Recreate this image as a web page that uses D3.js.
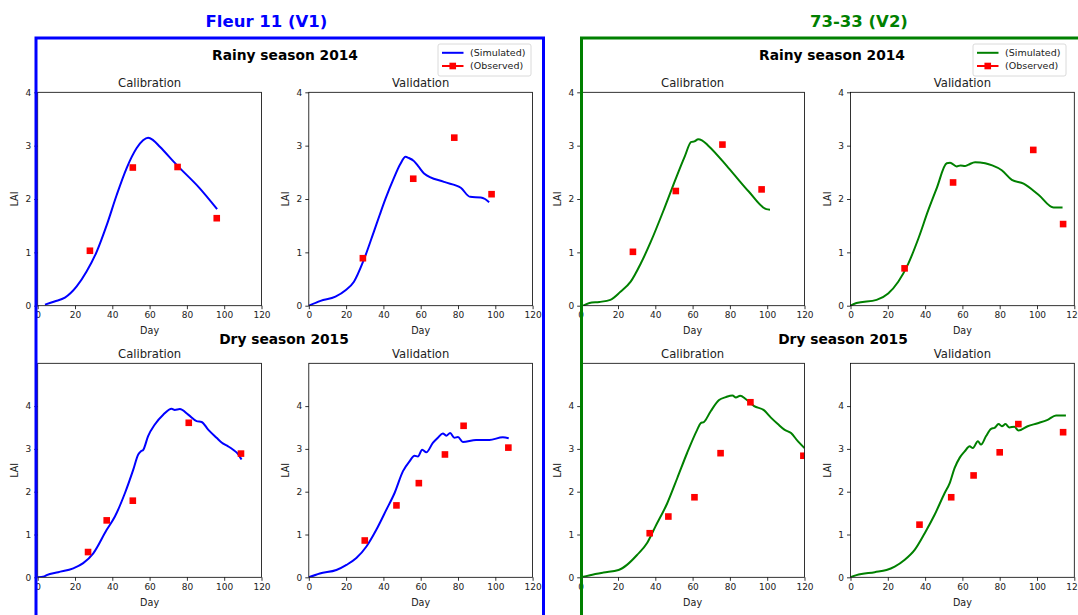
<!DOCTYPE html>
<html>
<head>
<meta charset="utf-8">
<script src="https://cdnjs.cloudflare.com/ajax/libs/d3/7.8.5/d3.min.js"></script>
<style>
  body { margin: 0; background: #fff; }
  svg { font-family: "DejaVu Sans", sans-serif; display: block; }
</style>
</head>
<body>
<div id="chart"></div>
<script>
// ticks shared by every panel
const dayTicks = [0, 20, 40, 60, 80, 100, 120];
const laiTicks = [0, 1, 2, 3, 4];

// Fleur 11 (V1) - rainy season 2014, [day, LAI]
const v1RainyCalSim = [[3.9,0.02],[9,0.08],[14.6,0.15],[20.9,0.36],[26.2,0.64],[31.6,1.01],[37,1.51],[42.3,2.07],[47.7,2.58],[53,2.95],[56.5,3.1],[59.2,3.15],[62,3.1],[65.5,2.98],[74.5,2.64],[86.9,2.2],[96.2,1.81]];
const v1RainyCalObs = [[28,1.03],[51,2.59],[75,2.6],[96,1.64]];
const v1RainyValSim = [[0,0],[6.3,0.09],[14.3,0.17],[19.7,0.29],[24.2,0.45],[29.5,0.86],[34.9,1.39],[38,1.7],[41.2,2.01],[45.6,2.39],[49,2.65],[51.9,2.79],[53.5,2.77],[56.4,2.71],[59,2.6],[61.8,2.48],[72.5,2.32],[81.5,2.21],[86.5,2.04],[92.2,2.03],[94.5,2.0],[96.7,1.94]];
const v1RainyValObs = [[29,0.89],[56,2.38],[78,3.15],[98,2.09]];

// Fleur 11 (V1) - dry season 2015
const v1DryCalSim = [[0,0],[3.5,0.02],[4.8,0.05],[11,0.12],[19.1,0.21],[24.4,0.33],[29.8,0.56],[37,1.11],[41.4,1.42],[46.8,1.97],[51.2,2.51],[53.9,2.87],[55.5,2.95],[56.6,2.98],[59.2,3.3],[62.8,3.57],[67.3,3.8],[71.8,3.94],[73.5,3.91],[76.2,3.93],[80.7,3.8],[85.2,3.65],[87.9,3.63],[91.4,3.45],[95.9,3.26],[98.6,3.15],[102.1,3.06],[104.8,2.98],[107,2.9],[109.3,2.75]];
const v1DryCalObs = [[27,0.59],[37,1.33],[51,1.79],[81,3.61],[109,2.89]];
const v1DryValSim = [[0,0],[5.9,0.09],[14.8,0.17],[20.2,0.29],[25.5,0.45],[30.9,0.72],[36.2,1.11],[41.6,1.58],[46,1.97],[50.5,2.48],[54,2.71],[56.7,2.84],[58.5,2.82],[60.8,2.98],[63,2.92],[66.5,3.14],[69.2,3.26],[71.9,3.36],[73.7,3.31],[75.8,3.37],[78.1,3.26],[80,3.28],[82.6,3.16],[89.7,3.21],[96.8,3.21],[104,3.27],[107.2,3.25]];
const v1DryValObs = [[30,0.86],[47,1.68],[59,2.2],[73,2.87],[83,3.54],[107,3.03]];

// 73-33 (V2) - rainy season 2014
const v2RainyCalSim = [[1.4,0],[4.7,0.05],[10,0.07],[15.9,0.11],[21.3,0.26],[26.8,0.45],[32.2,0.79],[37.6,1.2],[44.8,1.82],[50.3,2.32],[55.7,2.79],[59.3,3.07],[61,3.08],[63,3.12],[65,3.1],[68.4,3.0],[79.3,2.58],[90.1,2.14],[99.5,1.81],[101.5,1.8]];
const v2RainyCalObs = [[28,1.01],[51,2.15],[76,3.02],[97,2.18]];
const v2RainyValSim = [[0,0],[3.2,0.05],[14,0.11],[20.2,0.23],[25.6,0.45],[31,0.79],[36.4,1.26],[41.7,1.79],[46.2,2.2],[51.6,2.67],[53.4,2.68],[56.9,2.61],[59,2.63],[61.4,2.62],[63,2.64],[66.8,2.69],[72.2,2.67],[76,2.63],[81.1,2.54],[86.5,2.36],[92.8,2.29],[100.8,2.08],[108.9,1.84],[113.7,1.84]];
const v2RainyValObs = [[29,0.7],[55,2.31],[98,2.92],[114,1.53]];

// 73-33 (V2) - dry season 2015
const v2DryCalSim = [[0,0],[5,0.05],[12.2,0.11],[20.3,0.17],[24.8,0.29],[30.2,0.52],[35.6,0.8],[40.1,1.19],[46.4,1.73],[51.8,2.32],[57.1,2.91],[62.5,3.45],[64.3,3.6],[66.1,3.63],[69.7,3.88],[74.2,4.14],[77.8,4.21],[81.4,4.25],[83.2,4.2],[85.5,4.24],[88.6,4.16],[93,4.0],[98.4,3.9],[102,3.73],[105.7,3.58],[109.2,3.45],[112.8,3.37],[116.4,3.18],[120,3.02]];
const v2DryCalObs = [[37,1.03],[47,1.42],[61,1.87],[75,2.9],[91,4.09],[119.4,2.84]];
const v2DryValSim = [[0,0],[3.2,0.05],[13,0.12],[19.3,0.17],[23.7,0.25],[29.1,0.41],[34.4,0.64],[39.8,1.03],[45.1,1.46],[50.5,1.97],[53.2,2.2],[55.8,2.55],[58.5,2.79],[61.2,2.94],[63.9,3.06],[65.6,3.02],[68.3,3.18],[70,3.1],[72.7,3.3],[75.4,3.47],[77.2,3.49],[79.4,3.58],[81.2,3.53],[83.1,3.58],[85.2,3.5],[87.9,3.52],[90,3.43],[95,3.53],[100.4,3.6],[105.7,3.68],[110.2,3.78],[115.5,3.78]];
const v2DryValObs = [[37,1.23],[54,1.87],[66,2.38],[80,2.92],[90,3.58],[114,3.39]];

const BLUE = "#0000ff", GREEN = "#008000", RED = "#ff0000";

const width = 1078, height = 615;

// layout of the 4x2 grid of axes
const colLeft = [37.7, 308.8, 580.7, 850.5];
const axW = 223.8;
const rows = [
  {top: 92.3, bottom: 305.7, ymax: 4},
  {top: 363.3, bottom: 577.3, ymax: 5}
];

const panels = [
  {sim: v1RainyCalSim, obs: v1RainyCalObs, col: 0, row: 0, title: "Calibration", color: BLUE},
  {sim: v1RainyValSim, obs: v1RainyValObs, col: 1, row: 0, title: "Validation", color: BLUE},
  {sim: v2RainyCalSim, obs: v2RainyCalObs, col: 2, row: 0, title: "Calibration", color: GREEN},
  {sim: v2RainyValSim, obs: v2RainyValObs, col: 3, row: 0, title: "Validation", color: GREEN},
  {sim: v1DryCalSim, obs: v1DryCalObs, col: 0, row: 1, title: "Calibration", color: BLUE},
  {sim: v1DryValSim, obs: v1DryValObs, col: 1, row: 1, title: "Validation", color: BLUE},
  {sim: v2DryCalSim, obs: v2DryCalObs, col: 2, row: 1, title: "Calibration", color: GREEN},
  {sim: v2DryValSim, obs: v2DryValObs, col: 3, row: 1, title: "Validation", color: GREEN}
];

var svg = d3.select("#chart").append("svg")
    .attr("width", width)
    .attr("height", height);

var defs = svg.append("defs");

panels.forEach(function(p, i) {
  var r = rows[p.row];
  var x = d3.scaleLinear().domain([0, 120]).range([colLeft[p.col], colLeft[p.col] + axW]);
  var y = d3.scaleLinear().domain([0, r.ymax]).range([r.bottom, r.top]);

  defs.append("clipPath").attr("id", "clip" + i)
    .append("rect")
      .attr("x", x(0)).attr("y", r.top)
      .attr("width", axW).attr("height", r.bottom - r.top);

  var g = svg.append("g");

  // x axis
  var xg = g.append("g")
      .attr("transform", "translate(0," + r.bottom + ")")
      .call(d3.axisBottom(x).tickValues(dayTicks).tickFormat(d3.format("d"))
        .tickSize(3.5).tickPadding(2.5).tickSizeOuter(0));
  // y axis
  var yg = g.append("g")
      .attr("transform", "translate(" + x(0) + ",0)")
      .call(d3.axisLeft(y).tickValues(laiTicks).tickFormat(d3.format("d"))
        .tickSize(3.5).tickPadding(3).tickSizeOuter(0));

  [xg, yg].forEach(function(a) {
    a.select(".domain").remove();
    a.attr("font-family", null).attr("font-size", null);
    a.selectAll(".tick line").attr("stroke", "#000").attr("stroke-width", 0.8);
    a.selectAll(".tick text").attr("fill", "#222").style("font-size", "9px");
  });

  // simulated line
  var line = d3.line()
      .x(function(d) { return x(d[0]); })
      .y(function(d) { return y(d[1]); })
      .curve(d3.curveMonotoneX);

  g.append("path")
      .datum(p.sim)
      .attr("clip-path", "url(#clip" + i + ")")
      .attr("fill", "none")
      .attr("stroke", p.color)
      .attr("stroke-width", 2)
      .attr("stroke-linejoin", "round")
      .attr("d", line);

  // observed squares
  var s = 6.6;
  g.append("g")
      .attr("clip-path", "url(#clip" + i + ")")
    .selectAll("rect")
      .data(p.obs)
      .enter()
      .append("rect")
      .attr("x", function(d) { return x(d[0]) - s / 2; })
      .attr("y", function(d) { return y(d[1]) - s / 2; })
      .attr("width", s)
      .attr("height", s)
      .attr("fill", RED);

  // spines
  g.append("rect")
      .attr("x", x(0)).attr("y", r.top)
      .attr("width", axW).attr("height", r.bottom - r.top)
      .attr("fill", "none")
      .attr("stroke", "#000")
      .attr("stroke-width", 0.8);

  // labels
  g.append("text")
      .attr("x", x(60))
      .attr("y", r.bottom + 28.5)
      .attr("text-anchor", "middle")
      .style("font-size", "9.6px")
      .attr("fill", "#222")
      .text("Day");

  g.append("text")
      .attr("transform", "translate(" + (x(0) - 19.5) + "," + ((r.top + r.bottom) / 2) + ") rotate(-90)")
      .attr("text-anchor", "middle")
      .style("font-size", "9.6px")
      .attr("fill", "#222")
      .text("LAI");

  g.append("text")
      .attr("x", x(60))
      .attr("y", r.top - 5.5)
      .attr("text-anchor", "middle")
      .style("font-size", "11.6px")
      .attr("fill", "#222")
      .text(p.title);
});

// variety frames (drawn above the axes like in the original)
svg.append("rect")
    .attr("x", 36).attr("y", 38)
    .attr("width", 507.5).attr("height", 700)
    .attr("fill", "none").attr("stroke", BLUE).attr("stroke-width", 3);
svg.append("rect")
    .attr("x", 581.5).attr("y", 38)
    .attr("width", 600).attr("height", 700)
    .attr("fill", "none").attr("stroke", GREEN).attr("stroke-width", 3);

// variety titles
svg.append("text")
    .attr("x", 266.5).attr("y", 27)
    .attr("text-anchor", "middle")
    .style("font-size", "16.5px").style("font-weight", "bold")
    .attr("fill", BLUE)
    .text("Fleur 11 (V1)");
svg.append("text")
    .attr("x", 859).attr("y", 27)
    .attr("text-anchor", "middle")
    .style("font-size", "16.5px").style("font-weight", "bold")
    .attr("fill", GREEN)
    .text("73-33 (V2)");

// season titles
var seasonTitles = [
  {x: 285, y: 59.5, t: "Rainy season 2014"},
  {x: 832, y: 59.5, t: "Rainy season 2014"},
  {x: 284, y: 344, t: "Dry season 2015"},
  {x: 843, y: 344, t: "Dry season 2015"}
];
svg.selectAll("text.season")
    .data(seasonTitles)
    .enter()
    .append("text")
    .attr("class", "season")
    .attr("x", function(d) { return d.x; })
    .attr("y", function(d) { return d.y; })
    .attr("text-anchor", "middle")
    .style("font-size", "13.8px").style("font-weight", "bold")
    .attr("fill", "#000")
    .text(function(d) { return d.t; });

// legends
function legend(left, color) {
  var lg = svg.append("g").attr("transform", "translate(" + left + ",44)");
  lg.append("rect")
      .attr("x", 0).attr("y", 0).attr("width", 93).attr("height", 32)
      .attr("rx", 2)
      .attr("fill", "#fff").attr("fill-opacity", 0.8)
      .attr("stroke", "#d0d0d0").attr("stroke-width", 0.8);
  lg.append("line")
      .attr("x1", 4).attr("x2", 25.5).attr("y1", 8.8).attr("y2", 8.8)
      .attr("stroke", color).attr("stroke-width", 2);
  lg.append("line")
      .attr("x1", 4).attr("x2", 25.5).attr("y1", 22).attr("y2", 22)
      .attr("stroke", RED).attr("stroke-width", 2);
  lg.append("rect")
      .attr("x", 14.75 - 3.3).attr("y", 22 - 3.3).attr("width", 6.6).attr("height", 6.6)
      .attr("fill", RED);
  lg.append("text").attr("x", 32).attr("y", 8.8).attr("dy", "0.35em")
      .style("font-size", "9.5px").attr("fill", "#222").text("(Simulated)");
  lg.append("text").attr("x", 32).attr("y", 22).attr("dy", "0.35em")
      .style("font-size", "9.5px").attr("fill", "#222").text("(Observed)");
}
legend(438, BLUE);
legend(973, GREEN);
</script>
</body>
</html>
